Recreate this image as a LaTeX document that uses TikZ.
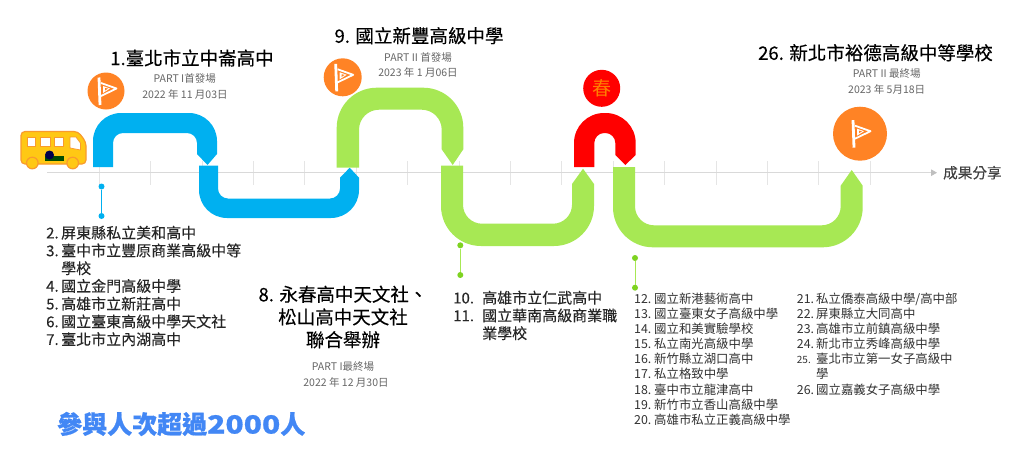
\documentclass[tikz,border=0pt]{standalone}
\usepackage{fontspec}
\setmainfont{Noto Sans CJK TC}
\newfontfamily\titlefont[FakeBold=0.25]{Noto Sans CJK TC}
\newfontfamily\listfont[FakeBold=0.1]{Noto Sans CJK TC}
\usetikzlibrary{arrows.meta}
\usetikzlibrary{positioning}

\definecolor{ribbonblue}{HTML}{00B0F0}
\definecolor{ribbongreen}{HTML}{A7E854}
\definecolor{ribbonred}{HTML}{FF0000}
\definecolor{flagorange}{HTML}{FF8325}
\definecolor{dotgreen}{HTML}{7ED321}
\definecolor{subgray}{HTML}{666666}
\definecolor{countblue}{HTML}{4287F5}
\definecolor{busyellow}{HTML}{FFC814}
\definecolor{busedge}{HTML}{F99B2D}

\newcommand{\numline}[3]{\makebox[#1pt][l]{#2}#3}

\tikzset{
  titletext/.style={font=\titlefont\fontsize{18.5}{22.7}\selectfont,text=black,align=center,inner sep=0pt},
  subtext/.style={font=\fontsize{10.5}{12}\selectfont,text=subgray,inner sep=0pt},
  bigitems/.style={font=\listfont\fontsize{15}{17.75}\selectfont,text=black!85,align=left,anchor=north west,inner sep=0pt},
  smallitems/.style={font=\fontsize{12.4}{15.05}\selectfont,text=black!80,align=left,anchor=north west,inner sep=0pt},
  axisline/.style={draw=black!15,line width=0.8pt},
  tickline/.style={draw=black!10,line width=0.6pt},
  flagdot/.style={circle,fill=flagorange,inner sep=0pt},
  bluedot/.style={circle,fill=ribbonblue,inner sep=0pt,minimum size=6pt},
  greendot/.style={circle,fill=dotgreen,inner sep=0pt,minimum size=6pt},
  busglass/.style={fill=white,draw=busedge,line width=0.8pt},
  buswheel/.style={fill=busyellow,draw=busedge,line width=1.2pt},
  flagicon/.pic={
    \draw[white,line width=2.8pt] (-7,-13.5) -- (-6,14);
    \draw[white,line width=1.8pt,line join=round] (-5,-8) -- (10.5,-2.5) -- (-5,5);
    \fill[white] (-3,-5) -- (4,-2.5) -- (-3,2) -- cycle;
    \fill[flagorange] (-1,-3) -- (2,-2.5) -- (-1,-0.5) -- cycle;
  }
}

\begin{document}
\begin{tikzpicture}[x=1pt,y=-1pt]
\useasboundingbox[fill=white] (0,0) rectangle (1024,448);

% time line
\coordinate (axisstart) at (47,172.7);
\coordinate (axisend) at (937,172.7);
\draw[tickline] (99,161) -- (99,185);
\draw[tickline] (150.4,161) -- (150.4,185);
\draw[tickline] (201.8,161) -- (201.8,185);
\draw[tickline] (253.2,161) -- (253.2,185);
\draw[tickline] (304.6,161) -- (304.6,185);
\draw[tickline] (356,161) -- (356,185);
\draw[tickline] (407.4,161) -- (407.4,185);
\draw[tickline] (458.8,161) -- (458.8,185);
\draw[tickline] (510.2,161) -- (510.2,185);
\draw[tickline] (561.6,161) -- (561.6,185);
\draw[tickline] (613,161) -- (613,185);
\draw[tickline] (664.4,161) -- (664.4,185);
\draw[tickline] (715.8,161) -- (715.8,185);
\draw[tickline] (767.2,161) -- (767.2,185);
\draw[tickline] (818.6,161) -- (818.6,185);
\draw[tickline] (870,161) -- (870,185);
\draw[axisline,-{Triangle[length=6pt,width=6.5pt,color=black!25]}] (axisstart) -- (axisend);
\node[font=\listfont\fontsize{14.6}{16}\selectfont,text=black!75,anchor=west,inner sep=0pt] (share) at (943,172.7) {成果分享};

% ribbons
\fill[ribbonblue] (93,167) [rounded corners=28pt] -- (93,113) -- (217,113) [sharp corners] -- (217,154) -- (207.5,165) -- (197,154) [rounded corners=10pt] -- (197,133) -- (113,133) [sharp corners] -- (113,167) -- cycle;
\fill[ribbonblue] (199,165.7) [rounded corners=28pt] -- (199,218) -- (359,218) [sharp corners] -- (359,177.7) -- (349.7,167.7) -- (340,177.7) [rounded corners=10pt] -- (340,198.5) -- (218,198.5) [sharp corners] -- (218,165.7) -- cycle;
\fill[ribbongreen] (336.7,167.7) [rounded corners=40pt] -- (336.7,87.7) -- (463.3,87.7) [sharp corners] -- (463.3,149.3) -- (452.7,165) -- (441.7,149.3) [rounded corners=20pt] -- (441.7,109.7) -- (359,109.7) [sharp corners] -- (359,167.7) -- cycle;
\fill[ribbongreen] (441,165.7) [rounded corners=40pt] -- (441,246) -- (594,246) [sharp corners] -- (594,184) -- (583,168.7) -- (572,184) [rounded corners=19pt] -- (572,223.7) -- (463,223.7) [sharp corners] -- (463,165.7) -- cycle;
\fill[ribbonred] (574,167) [rounded corners=30pt] -- (574,113) -- (635.7,113) [sharp corners] -- (635.7,155) -- (625.3,165) -- (615.3,155) [rounded corners=10pt] -- (615.3,133) -- (594.3,133) [sharp corners] -- (594.3,167) -- cycle;
\fill[ribbongreen] (613,167) [rounded corners=40pt] -- (613,247.3) -- (862.7,247.3) [sharp corners] -- (862.7,185.7) -- (851.7,170) -- (840.7,185.7) [rounded corners=19pt] -- (840.7,225.3) -- (635,225.3) [sharp corners] -- (635,167) -- cycle;

% bus
\draw[fill=busyellow,draw=busedge,line width=1.2pt,rounded corners=4pt] (21,131.5) -- (78,131.5) -- (86,142) -- (86,164) -- (21,164) -- cycle;
\draw[busglass] (27,137) rectangle (35.5,146);
\draw[busglass] (40.5,137) rectangle (50,146);
\draw[busglass] (54.5,137) rectangle (63.5,146);
\draw[busglass] (70,137) -- (76,137) -- (80.5,143) -- (80.5,150) -- (70,148) -- cycle;
\draw[buswheel] (32.3,163) circle (5.8);
\draw[buswheel] (72.7,163) circle (5.8);
\fill[black!70!green] (45,156) rectangle (64,160.5);
\fill[black!70!blue] (49.5,155) circle (4.5);

% start and end marks
\node[flagdot,minimum size=37pt] (flagone) at (106,91) {};
\pic at (flagone) {flagicon};
\node[flagdot,minimum size=38pt] (flagtwo) at (342.7,77.3) {};
\pic at (flagtwo) {flagicon};
\node[flagdot,minimum size=54pt] (flagthree) at (860,133.7) {};
\pic at (flagthree) {flagicon};
\node[circle,fill=ribbonred,inner sep=0pt,minimum size=37pt,font=\fontsize{19}{20}\selectfont,text=orange] (spring) at (601.7,88.3) {春};

% connectors
\node[bluedot] (bluetop) at (101.5,186.5) {};
\node[bluedot] (bluelow) at (101.5,216) {};
\draw[ribbonblue,line width=0.8pt] (bluetop) -- (bluelow);
\node[greendot] (greentop) at (460.3,245.3) {};
\node[greendot] (greenlow) at (460.3,275) {};
\draw[ribbongreen,line width=0.8pt] (greentop) -- (greenlow);
\node[greendot] (lasttop) at (635,258) {};
\node[greendot] (lastlow) at (635,287.7) {};
\draw[ribbongreen,line width=0.8pt] (lasttop) -- (lastlow);

% titles
\node[titletext] (titleone) at (192,58) {1.臺北市立中崙高中};
\node[subtext] (partone) at (184.7,79) {PART I首發場};
\node[subtext] (dateone) at (185,94) {2022 年 11 月03日};
\node[titletext] (titletwo) at (419,35.7) {9. 國立新豐高級中學};
\node[subtext] (parttwo) at (418,57.7) {PART II 首發場};
\node[subtext] (datetwo) at (418,72.7) {2023 年 1 月06日};
\node[titletext] (titlethree) at (875.5,52.7) {26. 新北市裕德高級中等學校};
\node[subtext] (partthree) at (886.7,74) {PART II 最終場};
\node[subtext] (datethree) at (886.7,89) {2023 年 5月18日};
\node[titletext] (titlemid) at (343,317) {8. 永春高中天文社、\\松山高中天文社\\聯合舉辦};
\node[subtext] (partmid) at (343,366.7) {PART I最終場};
\node[subtext] (datemid) at (346,382.7) {2022 年 12 月30日};

% school lists
\node[bigitems] (listone) at (46,225.5) {\numline{15}{2.}{屏東縣私立美和高中}\\
\numline{15}{3.}{臺中市立豐原商業高級中等}\\
\numline{15}{}{學校}\\
\numline{15}{4.}{國立金門高級中學}\\
\numline{15}{5.}{高雄市立新莊高中}\\
\numline{15}{6.}{國立臺東高級中學天文社}\\
\numline{15}{7.}{臺北市立內湖高中}};
\node[bigitems] (listtwo) at (453,290.5) {\numline{29}{10.}{高雄市立仁武高中}\\
\numline{29}{11.}{國立華南高級商業職}\\
\numline{29}{}{業學校}};
\node[smallitems] (listthree) at (634,293) {\numline{20}{12.}{國立新港藝術高中}\\
\numline{20}{13.}{國立臺東女子高級中學}\\
\numline{20}{14.}{國立和美實驗學校}\\
\numline{20}{15.}{私立南光高級中學}\\
\numline{20}{16.}{新竹縣立湖口高中}\\
\numline{20}{17.}{私立格致中學}\\
\numline{20}{18.}{臺中市立龍津高中}\\
\numline{20}{19.}{新竹市立香山高級中學}\\
\numline{20}{20.}{高雄市私立正義高級中學}};
\node[smallitems] (listfour) at (796.7,293) {\numline{19.3}{21.}{私立僑泰高級中學/高中部}\\
\numline{19.3}{22.}{屏東縣立大同高中}\\
\numline{19.3}{23.}{高雄市立前鎮高級中學}\\
\numline{19.3}{24.}{新北市立秀峰高級中學}\\
\numline{19.3}{\fontsize{10}{15.05}\selectfont 25.}{臺北市立第一女子高級中}\\
\numline{19.3}{}{學}\\
\numline{19.3}{26.}{國立嘉義女子高級中學}};

\node[font=\fontsize{25}{28}\bfseries\selectfont\addfontfeature{FakeBold=0.7},text=countblue,anchor=west,inner sep=0pt] (count) at (57,424) {參與人次超過{\addfontfeature{FakeStretch=1.2}2000}人};
\end{tikzpicture}
\end{document}
